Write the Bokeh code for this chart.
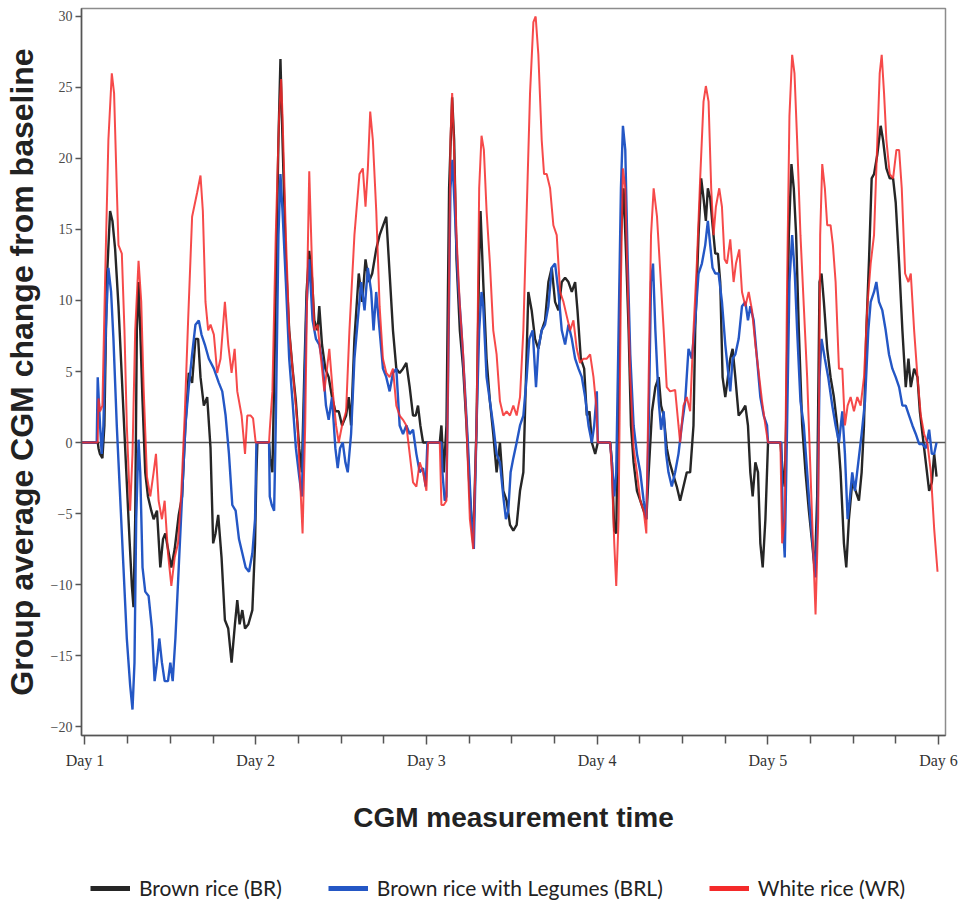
from bokeh.plotting import figure
from bokeh.layouts import column
from bokeh.models import FixedTicker, Span, Legend, LegendItem, Range1d
from bokeh.embed import file_html
from bokeh.resources import INLINE

# Time in hours since the start of Day 1; values = group average CGM change from baseline
br_points = [(-0.5,0),(1.8,0),(1.9,-0.4),(2.1,-0.8),(2.45,-1.1),(2.73,1.2),(3.06,11.3),(3.53,16.3),(3.86,15.6),(4.24,13.6),(4.71,9.6),(5.18,4.6),(5.65,-0.4),(6.12,-5.4),(6.59,-10.1),(6.82,-11.6),(7.06,-5.4),(7.29,7.9),(7.53,11.3),(7.77,7.9),(8.09,2.9),(8.47,-2.1),(8.85,-3.8),(9.32,-4.8),(9.65,-5.4),(10.12,-4.8),(10.59,-8.8),(10.97,-6.8),(11.29,-6.4),(11.67,-7.5),(12.14,-8.8),(12.61,-7.5),(13.18,-5.1),(13.65,-3.8),(14.12,1.2),(14.59,4.9),(15.06,4.2),(15.53,7.3),(15.91,7.3),(16.24,4.6),(16.71,2.6),(17.18,3.2),(17.65,-0.4),(18.02,-7.1),(18.35,-6.4),(18.73,-5.1),(19.2,-8.1),(19.67,-12.5),(20.14,-13.1),(20.61,-15.5),(21.08,-12.8),(21.41,-11.1),(21.74,-12.8),(22.12,-11.8),(22.5,-13.1),(22.97,-12.8),(23.53,-11.8),(23.91,-7.1),(24.1,-2.1),(24.24,0),(25.88,0),(26.02,-1.1),(26.35,-2.1),(26.73,7.9),(27.2,21.3),(27.48,27.0),(27.77,21.3),(28.24,12.9),(28.71,7.9),(29.18,5.2),(29.65,2.9),(30.12,-0.4),(30.49,-2.1),(30.82,4.6),(31.15,10.6),(31.53,13.5),(31.91,11.6),(32.24,8.6),(32.71,7.9),(32.94,9.6),(33.32,6.9),(33.79,5.2),(34.26,4.6),(34.73,3.2),(35.2,2.2),(35.67,2.2),(36.14,1.2),(36.71,1.9),(37.08,3.2),(37.41,1.2),(37.88,7.3),(38.49,11.9),(38.97,9.9),(39.44,12.9),(39.91,11.3),(40.38,11.9),(40.94,13.6),(41.42,14.6),(42.36,15.9),(42.83,11.9),(43.3,7.9),(43.77,5.2),(44.24,4.9),(44.71,5.2),(45.18,5.6),(45.65,3.9),(46.12,1.9),(46.5,1.9),(46.82,2.6),(47.15,1.2),(47.53,0),(49.88,0),(50.11,1.2),(50.44,-2.1),(50.82,1.2),(51.19,17.9),(51.62,24.3),(51.9,21.3),(52.23,12.9),(52.7,7.9),(53.17,5.2),(53.64,1.2),(54.11,-3.8),(54.58,-7.1),(55.05,1.2),(55.42,12.9),(55.61,16.3),(55.99,11.3),(56.46,5.9),(56.93,2.9),(57.4,0.6),(57.87,-2.1),(58.34,0),(58.81,-3.4),(59.28,-4.1),(59.75,-5.8),(60.22,-6.2),(60.69,-5.8),(61.16,-3.4),(61.63,-2.1),(62.0,4.6),(62.33,10.6),(62.8,9.3),(63.27,7.3),(63.74,6.6),(64.21,7.9),(64.68,8.6),(65.15,11.3),(65.62,12.3),(66.09,9.9),(66.56,9.3),(67.03,11.3),(67.5,11.6),(67.97,11.3),(68.44,10.6),(68.91,11.3),(69.24,9.3),(69.71,5.9),(70.18,5.2),(70.55,1.9),(70.93,2.2),(71.26,0),(71.73,-0.8),(72.1,0),(73.84,0),(74.08,-1.4),(74.41,-6.2),(74.69,-6.4),(75.02,4.6),(75.35,14.6),(75.72,17.9),(76.1,12.9),(76.43,7.9),(76.76,1.2),(77.13,-1.4),(77.6,-3.4),(78.07,-4.1),(78.54,-4.8),(78.92,-5.4),(79.25,-2.1),(79.72,2.2),(80.19,3.9),(80.66,4.6),(80.99,2.6),(81.36,1.9),(81.8,-0.4),(82.2,-1.4),(82.6,-2.1),(83.2,-3.1),(83.67,-4.1),(84.14,-3.1),(84.61,-2.1),(85.08,-2.1),(85.55,1.2),(85.79,7.9),(86.26,14.6),(86.63,18.6),(86.96,17.2),(87.29,15.6),(87.57,17.9),(87.9,17.2),(88.23,15.3),(88.61,13.3),(88.98,13.3),(89.31,11.3),(89.64,4.6),(90.02,3.2),(90.39,4.6),(90.72,5.9),(91.05,6.6),(91.43,4.6),(91.9,1.9),(92.37,2.2),(92.84,2.6),(93.21,1.2),(93.54,-2.1),(93.87,-3.8),(94.25,-1.4),(94.62,-2.1),(94.95,-7.1),(95.28,-8.8),(95.66,-5.4),(96.03,0),(97.77,0),(98.1,-2.1),(98.38,-3.1),(98.57,1.2),(98.95,14.6),(99.32,19.6),(99.65,17.9),(99.98,14.6),(100.36,7.9),(100.83,1.2),(101.3,-2.1),(101.77,-4.8),(102.24,-7.1),(102.61,-9.1),(102.94,-3.8),(103.27,11.3),(103.55,11.9),(103.88,9.9),(104.35,6.6),(104.82,4.6),(105.29,3.2),(105.76,1.2),(106.23,-2.1),(106.7,-7.1),(107.03,-8.8),(107.4,-5.4),(107.87,-2.8),(108.34,-3.4),(108.81,-4.1),(109.19,-2.1),(109.52,1.2),(109.85,7.9),(110.23,12.9),(110.6,18.6),(110.93,18.9),(111.4,20.3),(111.87,22.3),(112.2,21.3),(112.67,19.3),(113.14,18.6),(113.61,18.6),(113.98,16.9),(114.46,12.6),(114.92,7.9),(115.39,3.9),(115.77,5.9),(116.1,3.9),(116.57,5.2),(117.04,4.6),(117.37,2.2),(117.74,0.6),(118.21,-1.4),(118.68,-3.4),(119.06,-2.8),(119.39,-0.8),(119.72,-2.4)]

brl_points = [(-0.5,0),(1.65,0),(1.79,4.6),(2.12,1.2),(2.35,-0.8),(2.59,1.2),(2.92,7.9),(3.29,12.3),(3.67,10.6),(4.0,7.3),(4.47,1.2),(4.94,-3.8),(5.41,-8.8),(5.88,-13.8),(6.35,-17.1),(6.68,-18.8),(6.96,-15.5),(7.2,-5.4),(7.53,0.2),(7.77,-2.1),(8.09,-8.8),(8.47,-10.5),(8.94,-10.8),(9.41,-13.1),(9.79,-16.8),(10.12,-15.5),(10.45,-13.8),(10.82,-15.5),(11.2,-16.8),(11.67,-16.8),(12.0,-15.5),(12.33,-16.8),(12.71,-13.8),(13.18,-8.8),(13.65,-3.8),(14.12,1.2),(14.59,3.9),(15.06,6.2),(15.53,8.3),(16.0,8.6),(16.38,7.6),(16.85,6.9),(17.41,5.9),(18.12,5.2),(18.82,4.2),(19.3,3.6),(19.77,1.9),(20.24,-0.8),(20.71,-4.4),(21.18,-4.8),(21.65,-6.8),(22.12,-7.8),(22.59,-8.8),(23.06,-9.1),(23.53,-7.8),(23.91,-5.4),(24.1,0),(25.88,0),(25.98,-3.8),(26.26,-4.4),(26.59,-4.8),(26.82,1.2),(27.2,14.6),(27.48,18.9),(27.77,16.3),(28.24,11.3),(28.71,5.9),(29.18,2.9),(29.65,-0.4),(30.12,-2.4),(30.49,-3.8),(30.82,2.9),(31.15,9.6),(31.53,12.9),(32.0,8.6),(32.47,7.3),(32.94,6.9),(33.41,5.6),(33.88,2.6),(34.26,1.6),(34.73,3.2),(35.2,-0.4),(35.53,-1.8),(35.86,-0.4),(36.24,0),(36.61,-1.4),(36.94,-2.1),(37.41,0.6),(37.88,5.9),(38.35,8.6),(38.83,11.3),(39.3,9.3),(39.77,12.3),(40.24,10.6),(40.57,7.9),(40.94,10.6),(41.42,7.9),(41.89,5.2),(42.36,4.6),(42.83,3.6),(43.3,4.9),(43.77,5.2),(44.24,1.2),(44.71,0.6),(45.18,1.2),(45.65,0.6),(46.12,0.9),(46.59,-0.8),(47.06,-2.1),(47.53,-1.8),(47.9,-3.1),(48.14,0),(50.11,0),(50.25,-2.1),(50.58,-4.1),(50.82,-3.8),(51.05,4.6),(51.38,17.9),(51.66,19.9),(52.0,16.3),(52.46,11.3),(52.93,7.9),(53.4,3.9),(53.87,-0.4),(54.34,-5.4),(54.67,-7.5),(55.05,1.2),(55.42,7.9),(55.75,10.6),(55.99,9.6),(56.46,4.6),(56.93,2.9),(57.4,1.2),(57.87,-0.8),(58.34,-1.4),(58.81,-3.8),(59.18,-5.4),(59.51,-4.8),(59.84,-2.1),(60.22,-1.1),(60.69,0),(61.16,1.2),(61.63,1.9),(62.1,4.6),(62.47,7.3),(62.94,7.9),(63.41,3.9),(63.74,6.6),(64.21,7.9),(64.68,8.3),(65.15,9.6),(65.62,12.3),(66.09,12.6),(66.56,10.6),(67.03,7.9),(67.5,6.9),(67.97,8.3),(68.44,7.3),(68.91,5.9),(69.38,5.2),(69.85,4.6),(70.32,3.2),(70.79,1.2),(71.26,0),(71.59,1.2),(71.96,3.6),(72.1,0),(73.84,0),(74.08,-1.4),(74.41,-3.8),(74.69,-2.1),(75.02,7.9),(75.35,17.9),(75.63,22.3),(75.96,20.6),(76.29,12.9),(76.66,6.2),(77.13,1.2),(77.6,-0.8),(78.07,-2.1),(78.54,-4.1),(78.92,-5.4),(79.25,1.2),(79.58,11.3),(79.86,12.6),(80.19,7.9),(80.66,2.9),(80.99,0.9),(81.36,2.2),(81.7,-0.8),(82.03,-2.1),(82.5,-3.1),(82.97,-2.1),(83.44,-0.8),(83.91,1.2),(84.38,2.9),(84.85,6.6),(85.32,5.9),(85.79,8.6),(86.26,11.9),(86.73,12.6),(87.2,13.9),(87.57,15.6),(87.9,13.9),(88.23,12.3),(88.61,11.9),(89.08,11.9),(89.55,9.9),(90.02,6.9),(90.49,4.6),(90.72,3.6),(91.05,5.9),(91.43,6.2),(91.9,7.3),(92.37,9.6),(92.84,9.9),(93.21,8.6),(93.54,9.6),(94.01,8.6),(94.48,5.9),(94.95,3.2),(95.42,1.9),(95.89,1.2),(96.03,0),(97.91,0),(98.1,-5.4),(98.38,-8.1),(98.71,1.2),(99.04,11.3),(99.42,14.6),(99.79,11.9),(100.12,7.9),(100.59,2.9),(101.06,1.2),(101.53,-2.1),(102.0,-5.4),(102.47,-8.1),(102.71,-9.5),(102.99,-5.4),(103.27,4.6),(103.55,7.3),(104.02,5.9),(104.49,4.6),(105.06,2.6),(105.53,1.2),(106.0,0),(106.47,2.2),(106.84,-0.8),(107.22,-5.4),(107.5,-4.1),(107.87,-2.1),(108.25,-3.4),(108.72,-1.4),(109.19,0.6),(109.66,2.9),(110.13,7.9),(110.46,9.9),(110.93,10.6),(111.26,11.3),(111.63,9.9),(112.1,9.3),(112.57,7.9),(113.04,6.2),(113.51,5.2),(113.98,4.6),(114.46,3.9),(114.92,2.6),(115.39,2.6),(115.86,1.9),(116.33,1.2),(116.8,0.6),(117.27,-0.1),(117.74,-0.1),(118.21,-0.4),(118.68,0.9),(119.06,-0.8),(119.39,-0.8),(119.72,0)]

wr_points = [(-0.5,0),(1.79,0),(1.9,3.1),(2.12,2.2),(2.45,2.6),(2.82,11.3),(3.29,21.3),(3.77,26.0),(4.09,24.6),(4.47,17.9),(4.71,13.9),(5.18,13.3),(5.55,7.9),(5.88,1.2),(6.35,-4.8),(6.68,-0.8),(7.06,7.9),(7.53,12.8),(7.91,9.9),(8.24,3.9),(8.71,-2.4),(9.18,-3.8),(9.65,-2.1),(9.98,-0.8),(10.35,-4.1),(10.82,-5.4),(11.2,-4.1),(11.67,-7.8),(12.14,-10.1),(12.61,-8.1),(13.08,-7.1),(13.55,-3.4),(14.02,1.9),(14.5,8.6),(15.06,15.9),(15.77,17.6),(16.24,18.8),(16.57,16.3),(16.94,9.9),(17.32,7.9),(17.65,8.3),(18.12,7.6),(18.59,4.9),(19.06,5.9),(19.67,9.9),(20.14,6.9),(20.61,4.9),(21.04,6.6),(21.41,3.6),(22.02,1.9),(22.5,-0.8),(22.82,1.9),(23.3,1.9),(23.63,1.7),(24.0,0),(25.88,0),(25.98,0.9),(26.35,3.6),(26.82,14.6),(27.29,23.0),(27.58,25.6),(27.77,23.0),(28.24,14.6),(28.71,7.9),(29.41,3.9),(29.88,1.2),(30.35,-3.8),(30.59,-6.4),(30.96,1.2),(31.29,12.6),(31.53,19.1),(31.91,12.6),(32.24,7.9),(32.71,8.3),(33.18,5.9),(33.65,3.6),(34.35,6.6),(34.83,3.6),(35.3,1.2),(35.67,0),(36.14,1.2),(36.71,2.2),(37.18,7.9),(37.88,14.6),(38.59,18.9),(39.06,19.3),(39.44,16.6),(39.77,19.3),(40.1,23.3),(40.47,21.3),(40.95,16.3),(41.42,9.6),(41.89,5.9),(42.36,4.9),(42.83,4.6),(43.3,5.2),(43.77,2.6),(44.24,1.9),(44.71,1.6),(45.18,1.2),(45.65,-0.8),(46.12,-2.8),(46.59,-3.1),(47.06,-1.4),(47.53,-2.1),(48.0,-3.4),(48.23,0),(49.88,0),(50.11,-4.4),(50.44,-4.4),(50.82,-4.1),(51.05,4.6),(51.38,21.3),(51.62,24.6),(51.85,21.3),(52.23,14.6),(52.7,9.6),(53.17,6.2),(53.64,1.2),(54.11,-5.4),(54.58,-7.5),(55.05,1.2),(55.42,17.9),(55.75,21.6),(56.08,20.6),(56.46,16.3),(56.93,12.6),(57.4,7.9),(57.87,6.2),(58.34,2.9),(58.81,1.9),(59.28,2.2),(59.75,1.9),(60.22,2.6),(60.69,1.9),(61.16,3.2),(61.63,7.9),(62.1,16.3),(62.57,24.6),(63.04,29.6),(63.36,30.0),(63.74,27.3),(64.21,21.3),(64.54,18.9),(64.91,18.9),(65.39,17.9),(65.85,15.3),(66.32,14.6),(66.8,10.6),(67.27,9.9),(67.73,8.9),(68.2,7.9),(68.67,8.6),(69.14,6.6),(69.61,5.6),(70.08,5.9),(70.55,5.9),(71.02,6.2),(71.49,4.6),(71.87,2.6),(72.1,0),(73.84,0),(74.08,-2.1),(74.41,-7.1),(74.69,-10.1),(75.02,-5.4),(75.35,11.3),(75.63,19.3),(75.96,17.9),(76.29,11.3),(76.66,4.6),(77.13,-0.4),(77.6,-2.1),(78.07,-4.1),(78.54,-4.8),(78.92,-6.4),(79.25,4.6),(79.58,14.6),(79.95,17.9),(80.42,15.9),(80.89,11.9),(81.36,7.9),(81.79,3.9),(82.26,3.6),(82.97,3.7),(83.44,1.2),(83.67,0),(84.14,2.6),(84.61,3.2),(85.08,2.2),(85.55,7.9),(86.02,12.6),(86.49,18.6),(86.96,24.0),(87.29,25.1),(87.67,24.0),(88.04,17.9),(88.37,14.6),(88.7,16.6),(89.17,17.9),(89.55,16.6),(89.92,12.9),(90.25,12.6),(90.72,14.3),(91.19,11.3),(91.52,12.6),(91.99,13.6),(92.37,10.6),(92.84,9.6),(93.31,10.6),(93.78,9.3),(94.25,6.9),(94.72,4.9),(95.19,2.9),(95.66,1.2),(96.03,0),(97.77,0),(98.01,-7.1),(98.38,-5.4),(98.71,11.3),(99.04,23.0),(99.42,27.3),(99.75,26.0),(100.12,21.3),(100.59,14.6),(101.06,9.6),(101.53,4.6),(102.0,-2.1),(102.47,-8.8),(102.71,-12.1),(103.08,-5.4),(103.36,14.6),(103.65,19.6),(104.02,17.9),(104.35,15.3),(104.82,15.3),(105.15,13.9),(105.53,11.3),(106.0,5.2),(106.47,5.2),(106.84,1.2),(107.22,2.6),(107.64,3.2),(108.11,2.2),(108.58,3.2),(109.05,2.6),(109.52,4.6),(109.99,9.6),(110.46,12.6),(110.93,14.6),(111.4,21.3),(111.73,26.0),(112.01,27.3),(112.34,24.6),(112.67,21.3),(113.14,18.9),(113.61,18.6),(114.08,20.6),(114.46,20.6),(114.83,17.9),(115.3,11.9),(115.77,11.3),(116.1,11.9),(116.57,7.9),(117.04,4.6),(117.51,1.9),(117.98,0.6),(118.45,-0.1),(118.92,-2.1),(119.39,-6.1),(119.86,-9.1)]

day_ticks = [0, 24, 48, 72, 96, 120]
day_labels = ["Day 1", "Day 2", "Day 3", "Day 4", "Day 5", "Day 6"]
minor_hours = [6, 12, 18, 30, 36, 42, 54, 60, 66, 78, 84, 90, 102, 108, 114]
y_ticks = [-20, -15, -10, -5, 0, 5, 10, 15, 20, 25, 30]
series_names = ["Brown rice (BR)", "Brown rice with Legumes (BRL)", "White rice (WR)"]
series_colors = ["#262626", "#2457c5", "#f42a2a"]
x_title = "CGM measurement time"
y_title = "Group average CGM change from baseline"

br_h, br_v = zip(*br_points)
brl_h, brl_v = zip(*brl_points)
wr_h, wr_v = zip(*wr_points)
series = [(list(br_h), list(br_v)), (list(brl_h), list(brl_v)), (list(wr_h), list(wr_v))]

# ---------------- main chart ----------------
p = figure(width=958, height=860, output_backend="svg", toolbar_location=None,
           x_range=(-0.49, 120.98), y_range=(-20.63, 30.56),
           min_border_left=80, min_border_right=13, min_border_top=8, min_border_bottom=125)
p.xgrid.visible = False
p.ygrid.visible = False
p.outline_line_color = "#8c8c8c"
p.outline_line_width = 1.5

p.add_layout(Span(location=0, dimension="width", line_color="#555555", line_width=1.5, level="underlay"))

widths = [2.4, 2.4, 2.0]
alphas = [1.0, 1.0, 0.85]
for (hx, vy), c, w, a in zip(series, series_colors, widths, alphas):
    p.line(hx, vy, line_color=c, line_width=w, line_alpha=a)

xa = p.xaxis[0]
xa.ticker = FixedTicker(ticks=day_ticks, minor_ticks=minor_hours)
xa.major_label_overrides = {t: lab for t, lab in zip(day_ticks, day_labels)}
xa.major_label_text_font = "Liberation Serif"
xa.major_label_text_font_size = "16px"
xa.major_label_text_color = "#333333"
xa.major_tick_out = 9
xa.major_tick_in = 0
xa.minor_tick_out = 8
xa.minor_tick_in = 0
xa.major_label_standoff = 7
xa.axis_line_color = "#555555"
xa.axis_line_width = 1.5
xa.major_tick_line_color = "#555555"
xa.minor_tick_line_color = "#555555"
xa.major_tick_line_width = 1.5
xa.minor_tick_line_width = 1.5
xa.axis_label = x_title
xa.axis_label_text_font = "Liberation Sans"
xa.axis_label_text_font_style = "bold"
xa.axis_label_text_font_size = "28px"
xa.axis_label_text_color = "#222222"
xa.axis_label_standoff = 30

ya = p.yaxis[0]
ya.ticker = FixedTicker(ticks=y_ticks, minor_ticks=[])
ya.major_label_text_font = "Liberation Serif"
ya.major_label_text_font_size = "14px"
ya.major_label_text_color = "#4a4a4a"
ya.major_tick_out = 6
ya.major_tick_in = 0
ya.major_label_standoff = 3
ya.axis_line_color = "#555555"
ya.axis_line_width = 1.5
ya.major_tick_line_color = "#555555"
ya.major_tick_line_width = 1.5
ya.axis_label = y_title
ya.axis_label_text_font = "Liberation Sans"
ya.axis_label_text_font_style = "bold"
ya.axis_label_text_font_size = "32px"
ya.axis_label_text_color = "#222222"
ya.axis_label_standoff = 8

# ---------------- legend strip below the chart ----------------
# same series drawn in a strip whose x range lies beyond the data, so only the legend shows
lg = figure(width=958, height=48, output_backend="svg", toolbar_location=None,
            x_range=Range1d(500, 501), y_range=Range1d(0, 1),
            x_axis_location=None, y_axis_location=None,
            min_border_left=0, min_border_right=0, min_border_top=0, min_border_bottom=0)
lg.xgrid.visible = False
lg.ygrid.visible = False
lg.outline_line_color = None
leg_items = []
for (hx, vy), c, name in zip(series, series_colors, series_names):
    r = lg.line(hx, vy, line_color=c, line_width=5)
    leg_items.append(LegendItem(label=name, renderers=[r]))

legend = Legend(items=leg_items, orientation="horizontal", location=(9, 8),
                glyph_width=40, glyph_height=20, label_standoff=9, spacing=46,
                label_text_font="Lato", label_text_font_size="21px", label_text_color="#222222",
                border_line_color=None, background_fill_alpha=0, padding=2, margin=0)
lg.add_layout(legend)

layout = column(p, lg, spacing=0)
open("out.html", "w").write(file_html(layout, INLINE))
